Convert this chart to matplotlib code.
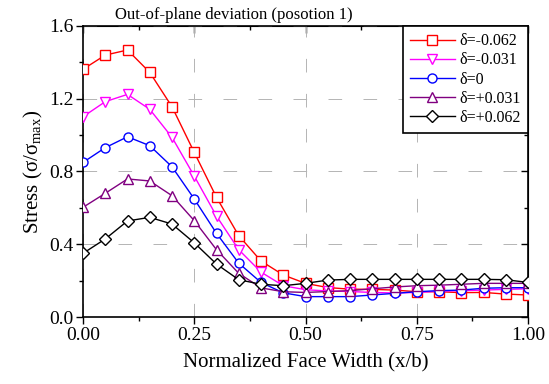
import matplotlib
matplotlib.use("Agg")
import matplotlib.pyplot as plt
from matplotlib.ticker import MultipleLocator
import numpy as np

plt.rcParams['font.family'] = ['Liberation Serif', 'DejaVu Serif']
plt.rcParams['mathtext.fontset'] = 'custom'
plt.rcParams['mathtext.rm'] = 'Liberation Serif'
plt.rcParams['mathtext.it'] = 'Liberation Serif'

x = [0.00, 0.05, 0.10, 0.15, 0.20, 0.25, 0.30, 0.35, 0.40, 0.45, 0.50,
     0.55, 0.60, 0.65, 0.70, 0.75, 0.80, 0.85, 0.90, 0.95, 1.00]

s_m062 = [1.362, 1.440, 1.468, 1.345, 1.156, 0.905, 0.658, 0.447, 0.308, 0.231, 0.185,
          0.162, 0.153, 0.152, 0.148, 0.139, 0.139, 0.134, 0.135, 0.126, 0.121]
s_m031 = [1.101, 1.184, 1.224, 1.142, 0.988, 0.775, 0.555, 0.370, 0.247, 0.172, 0.150,
          0.143, 0.140, 0.135, 0.132, 0.135, 0.142, 0.145, 0.148, 0.152, 0.155]
s_0 = [0.850, 0.931, 0.991, 0.942, 0.826, 0.649, 0.460, 0.296, 0.190, 0.133, 0.112,
       0.112, 0.112, 0.121, 0.130, 0.139, 0.145, 0.148, 0.158, 0.161, 0.161]
s_p031 = [0.603, 0.680, 0.759, 0.748, 0.667, 0.530, 0.370, 0.240, 0.160, 0.139, 0.135,
          0.140, 0.145, 0.155, 0.165, 0.172, 0.175, 0.180, 0.185, 0.185, 0.185]
s_p062 = [0.350, 0.429, 0.528, 0.548, 0.511, 0.408, 0.291, 0.205, 0.180, 0.172, 0.185,
          0.203, 0.207, 0.207, 0.207, 0.207, 0.207, 0.207, 0.207, 0.205, 0.190]

labels = ['δ=-0.062', 'δ=-0.031', 'δ=0', 'δ=+0.031', 'δ=+0.062']
series = [s_m062, s_m031, s_0, s_p031, s_p062]
colors = ['#FF0000', '#FF00FF', '#0000FF', '#800080', '#000000']
markers = ['s', 'v', 'o', '^', 'D']
msizes = [7, 7.5, 6.5, 7.5, 6]

fig = plt.figure(figsize=(5.49, 3.84), dpi=100)
ax = fig.add_axes([83/549, 1-317/384, 445/549, 291/384])

for ys, lab, c, m, ms in zip(series, labels, colors, markers, msizes):
    ax.plot(x, ys, color=c, marker=m, markersize=ms, markerfacecolor='white',
            markeredgecolor=c, markeredgewidth=1.0, linewidth=1.0, label=lab, zorder=3)

ax.set_xlim(0, 1.0)
ax.set_ylim(0, 1.6)
ax.xaxis.set_major_locator(MultipleLocator(0.25))
ax.xaxis.set_minor_locator(MultipleLocator(0.125))
ax.yaxis.set_major_locator(MultipleLocator(0.4))
ax.yaxis.set_minor_locator(MultipleLocator(0.2))
ax.xaxis.set_major_formatter(plt.FuncFormatter(lambda v, p: f'{v:.2f}'))
ax.yaxis.set_major_formatter(plt.FuncFormatter(lambda v, p: f'{v:.1f}'))

ax.tick_params(which='major', direction='out', length=5, width=1, labelsize=14, pad=2,
               top=False, right=False)
ax.tick_params(which='minor', direction='out', length=3, width=1, top=False, right=False)

ax.grid(True, which='major', color='#b4b4b4', linewidth=0.7, linestyle=(0, (14, 22)), zorder=0)

for sp in ax.spines.values():
    sp.set_linewidth(1.2)

# mirrored inward ticks on top and right
axt = ax.secondary_xaxis('top')
axt.xaxis.set_major_locator(MultipleLocator(0.25))
axt.xaxis.set_minor_locator(MultipleLocator(0.125))
axt.tick_params(which='major', direction='in', length=5, width=1, labeltop=False)
axt.tick_params(which='minor', direction='in', length=3, width=1)
axr = ax.secondary_yaxis('right')
axr.yaxis.set_major_locator(MultipleLocator(0.4))
axr.yaxis.set_minor_locator(MultipleLocator(0.2))
axr.tick_params(which='major', direction='in', length=5, width=1, labelright=False)
axr.tick_params(which='minor', direction='in', length=3, width=1)

ax.set_xlabel('Normalized Face Width (x/b)', fontsize=15, labelpad=7)
ax.set_ylabel(r'Stress ($\mathrm{\sigma/\sigma_{max}}$)', fontsize=15, labelpad=3)

fig.text(115/549, 1-19/384, 'Out-of-plane deviation (posotion 1)', fontsize=12,
         ha='left', va='baseline')

leg = ax.legend(loc='upper right', fontsize=11.5, frameon=True, fancybox=False,
                edgecolor='black', framealpha=1, borderaxespad=0, handlelength=2.8,
                handletextpad=0.3, labelspacing=0.2, borderpad=0.45)
leg.get_frame().set_linewidth(1.2)

fig.savefig('out.png', dpi=100)
